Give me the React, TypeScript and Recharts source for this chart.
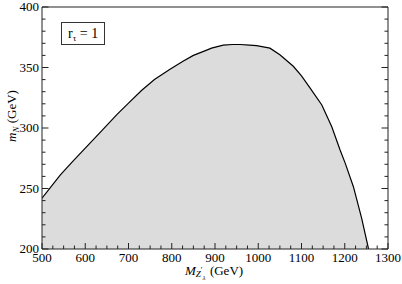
import React from 'react';
import { ComposedChart, Area, XAxis, YAxis, Customized } from 'recharts';

const FONT = '"Liberation Serif", "Times New Roman", Times, serif';

// Boundary curve: M_Z' (GeV) vs m_N (GeV)
const massZ = [500, 542, 570, 611, 640, 673, 700, 730, 760, 796, 825, 850, 875, 892, 919, 940, 958, 980, 996, 1027, 1050, 1081, 1100, 1120, 1147, 1170, 1189, 1201, 1220, 1239, 1255];
const massN = [242, 261, 272, 287.5, 298.5, 311, 320.5, 331, 340, 348.5, 355, 360, 363.5, 366, 368.5, 369, 369, 368.5, 368, 366, 360.5, 351, 343, 333, 319, 301, 282, 271, 251.5, 225.5, 200];

const xMajor = [500, 600, 700, 800, 900, 1000, 1100, 1200, 1300];
const xTicks = [500, 525, 550, 575, 600, 625, 650, 675, 700, 725, 750, 775, 800, 825, 850, 875, 900, 925, 950, 975, 1000, 1025, 1050, 1075, 1100, 1125, 1150, 1175, 1200, 1225, 1250, 1275, 1300];
const yMajor = [200, 250, 300, 350, 400];
const yTicks = [200, 210, 220, 230, 240, 250, 260, 270, 280, 290, 300, 310, 320, 330, 340, 350, 360, 370, 380, 390, 400];

const data = massZ.map((x, i) => ({ x, y: massN[i] }));

const AX = '#222';

const BottomTick = (props: any) => {
  const { x, y, payload } = props;
  const major = xMajor.includes(payload.value);
  const len = major ? 6 : 3.5;
  return (
    <g>
      <line x1={x} x2={x} y1={y} y2={y - len} stroke={AX} strokeWidth={1} />
      {major && (
        <text x={x} y={y + 12.5} textAnchor="middle" fontFamily={FONT} fontSize={13} fill="#000">
          {payload.value}
        </text>
      )}
    </g>
  );
};

const TopTick = (props: any) => {
  const { x, y, payload } = props;
  const major = xMajor.includes(payload.value);
  const len = major ? 6 : 3.5;
  return <line x1={x} x2={x} y1={y} y2={y + len} stroke={AX} strokeWidth={1} />;
};

const LeftTick = (props: any) => {
  const { x, y, payload } = props;
  const major = yMajor.includes(payload.value);
  const len = major ? 6.5 : 3.5;
  return (
    <g>
      <line x1={x} x2={x + len} y1={y} y2={y} stroke={AX} strokeWidth={1} />
      {major && (
        <text x={x - 3} y={y + 4} textAnchor="end" fontFamily={FONT} fontSize={13} fill="#000">
          {payload.value}
        </text>
      )}
    </g>
  );
};

const RightTick = (props: any) => {
  const { x, y, payload } = props;
  const major = yMajor.includes(payload.value);
  const len = major ? 6.5 : 3.5;
  return <line x1={x} x2={x - len} y1={y} y2={y} stroke={AX} strokeWidth={1} />;
};

const Overlay = () => (
  <g>
    <rect x={61.5} y={22.5} width={43} height={22} fill="#fff" stroke="#333" strokeWidth={1} />
    <text x={68} y={37.5} fontFamily={FONT} fontSize={14} fill="#000">
      r<tspan fontSize={9} dy={3}>τ</tspan>
      <tspan dy={-3}> = 1</tspan>
    </text>
    <text x={185} y={275} fontFamily={FONT} fontSize={13} fill="#000">
      <tspan fontStyle="italic">M</tspan>
      <tspan fontStyle="italic" fontSize={9} dy={2}>Z</tspan>
      <tspan fontSize={8} dy={-4}>′</tspan>
      <tspan fontStyle="italic" fontSize={7} dy={7}>λ</tspan>
      <tspan dx={1} dy={-5}> (GeV)</tspan>
    </text>
    <text
      x={16}
      y={116}
      transform="rotate(-90, 16, 116)"
      textAnchor="middle"
      fontFamily={FONT}
      fontSize={13}
      fill="#000"
    >
      <tspan fontStyle="italic">m</tspan>
      <tspan fontStyle="italic" fontSize={9} dy={3}>N</tspan>
      <tspan dy={-3}> (GeV)</tspan>
    </text>
  </g>
);

export default function App() {
  return (
    <div style={{ position: 'absolute', left: 0, top: 0, width: 402, height: 284, background: '#fff' }}>
      <ComposedChart width={402} height={284} data={data} margin={{ top: 5, right: 12, left: 2, bottom: 5 }}>
        <XAxis
          dataKey="x"
          type="number"
          domain={[500, 1300]}
          ticks={xTicks}
          interval={0}
          height={30}
          tickSize={0}
          tickMargin={0}
          tickLine={false}
          axisLine={{ stroke: AX, strokeWidth: 1 }}
          tick={<BottomTick />}
          allowDataOverflow
        />
        <XAxis
          xAxisId="top"
          orientation="top"
          type="number"
          domain={[500, 1300]}
          ticks={xTicks}
          interval={0}
          height={2}
          tickSize={0}
          tickMargin={0}
          tickLine={false}
          axisLine={{ stroke: AX, strokeWidth: 1 }}
          tick={<TopTick />}
          allowDataOverflow
        />
        <YAxis
          type="number"
          domain={[200, 400]}
          ticks={yTicks}
          interval={0}
          width={40}
          tickSize={0}
          tickMargin={0}
          tickLine={false}
          axisLine={{ stroke: AX, strokeWidth: 1 }}
          tick={<LeftTick />}
          allowDataOverflow
        />
        <YAxis
          yAxisId="right"
          orientation="right"
          type="number"
          domain={[200, 400]}
          ticks={yTicks}
          interval={0}
          width={2}
          tickSize={0}
          tickMargin={0}
          tickLine={false}
          axisLine={{ stroke: AX, strokeWidth: 1 }}
          tick={<RightTick />}
          allowDataOverflow
        />
        <Area
          type="linear"
          dataKey="y"
          baseValue={200}
          fill="#dcdcdc"
          fillOpacity={1}
          stroke="#000"
          strokeWidth={1.2}
          isAnimationActive={false}
          dot={false}
          activeDot={false}
        />
        <Customized component={Overlay} />
      </ComposedChart>
    </div>
  );
}
